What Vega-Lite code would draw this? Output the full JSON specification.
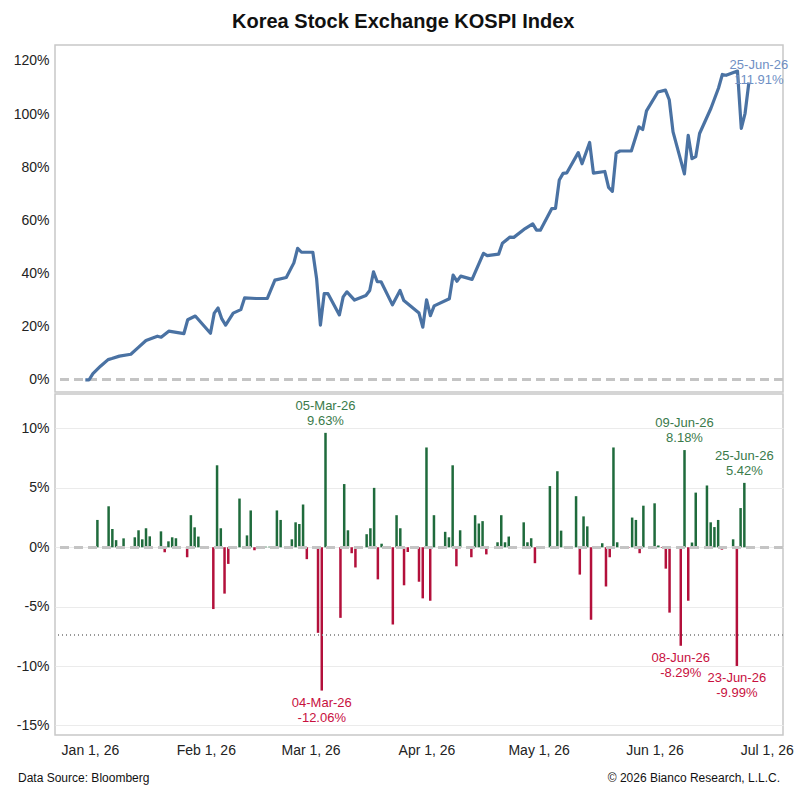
{
  "$schema": "https://vega.github.io/schema/vega-lite/v6.json",
  "background": "white",
  "padding": {"left": 12, "right": 12, "top": 12, "bottom": 10},
  "title": {"text": "Korea Stock Exchange KOSPI Index", "anchor": "middle", "fontSize": 20, "font": "Liberation Sans", "fontWeight": "bold", "color": "#111", "offset": 12},
  "config": {
    "font": "Liberation Sans",
    "view": {"stroke": "#c8c8c8", "strokeWidth": 1.5},
    "axis": {"labelFont": "Liberation Sans", "labelFontSize": 14, "labelColor": "#222", "gridColor": "#ebebeb", "domain": false, "ticks": false, "title": null}
  },
  "spacing": 0,
  "datasets": {
    "idx": [
      {"date": "2026-01-01", "v": 0}, {"date": "2026-01-02", "v": 0}, {"date": "2026-01-03", "v": 2.3}, {"date": "2026-01-05", "v": 5.1},
      {"date": "2026-01-07", "v": 7.6}, {"date": "2026-01-08", "v": 8}, {"date": "2026-01-10", "v": 8.9}, {"date": "2026-01-13", "v": 9.6},
      {"date": "2026-01-15", "v": 12.2}, {"date": "2026-01-17", "v": 14.8}, {"date": "2026-01-20", "v": 16.4}, {"date": "2026-01-21", "v": 16},
      {"date": "2026-01-23", "v": 18.3}, {"date": "2026-01-27", "v": 17.4}, {"date": "2026-01-28", "v": 22.6}, {"date": "2026-01-30", "v": 24},
      {"date": "2026-02-03", "v": 17.5}, {"date": "2026-02-04", "v": 25.1}, {"date": "2026-02-05", "v": 27}, {"date": "2026-02-06", "v": 22.9},
      {"date": "2026-02-07", "v": 20.6}, {"date": "2026-02-09", "v": 25.1}, {"date": "2026-02-11", "v": 26.4}, {"date": "2026-02-12", "v": 30.8},
      {"date": "2026-02-15", "v": 30.6}, {"date": "2026-02-18", "v": 30.6}, {"date": "2026-02-20", "v": 37.5}, {"date": "2026-02-23", "v": 38.5},
      {"date": "2026-02-25", "v": 44}, {"date": "2026-02-26", "v": 49.5}, {"date": "2026-02-27", "v": 48}, {"date": "2026-03-02", "v": 48},
      {"date": "2026-03-03", "v": 38}, {"date": "2026-03-04", "v": 20.6}, {"date": "2026-03-05", "v": 32.4}, {"date": "2026-03-06", "v": 32.4},
      {"date": "2026-03-09", "v": 24.4}, {"date": "2026-03-10", "v": 31.2}, {"date": "2026-03-11", "v": 33.1}, {"date": "2026-03-13", "v": 30},
      {"date": "2026-03-16", "v": 31.7}, {"date": "2026-03-17", "v": 33.6}, {"date": "2026-03-18", "v": 40.6}, {"date": "2026-03-19", "v": 36.9},
      {"date": "2026-03-20", "v": 36.9}, {"date": "2026-03-23", "v": 28.2}, {"date": "2026-03-25", "v": 33.6}, {"date": "2026-03-26", "v": 29.8},
      {"date": "2026-03-30", "v": 25.1}, {"date": "2026-03-31", "v": 19.8}, {"date": "2026-04-01", "v": 30.1}, {"date": "2026-04-02", "v": 24.1},
      {"date": "2026-04-03", "v": 27.8}, {"date": "2026-04-07", "v": 30.5}, {"date": "2026-04-08", "v": 39.4}, {"date": "2026-04-09", "v": 37.1},
      {"date": "2026-04-10", "v": 39}, {"date": "2026-04-13", "v": 37.8}, {"date": "2026-04-16", "v": 47.6}, {"date": "2026-04-17", "v": 46.7},
      {"date": "2026-04-20", "v": 47.3}, {"date": "2026-04-21", "v": 51.4}, {"date": "2026-04-23", "v": 53.7}, {"date": "2026-04-24", "v": 53.6},
      {"date": "2026-04-27", "v": 56.9}, {"date": "2026-04-29", "v": 58.7}, {"date": "2026-04-30", "v": 56.3}, {"date": "2026-05-01", "v": 56.3},
      {"date": "2026-05-04", "v": 64.4}, {"date": "2026-05-05", "v": 64.5}, {"date": "2026-05-06", "v": 75.2}, {"date": "2026-05-07", "v": 77.7},
      {"date": "2026-05-08", "v": 77.9}, {"date": "2026-05-11", "v": 85.5}, {"date": "2026-05-12", "v": 81.3}, {"date": "2026-05-14", "v": 89.3},
      {"date": "2026-05-15", "v": 77.8}, {"date": "2026-05-18", "v": 78.4}, {"date": "2026-05-19", "v": 72.4}, {"date": "2026-05-20", "v": 70.9},
      {"date": "2026-05-21", "v": 85.3}, {"date": "2026-05-22", "v": 86.1}, {"date": "2026-05-25", "v": 86.1}, {"date": "2026-05-27", "v": 95.2},
      {"date": "2026-05-28", "v": 94.2}, {"date": "2026-05-29", "v": 101.2}, {"date": "2026-06-01", "v": 108.3}, {"date": "2026-06-03", "v": 109},
      {"date": "2026-06-04", "v": 105.4}, {"date": "2026-06-05", "v": 93.3}, {"date": "2026-06-08", "v": 77.5}, {"date": "2026-06-09", "v": 92},
      {"date": "2026-06-10", "v": 83.2}, {"date": "2026-06-11", "v": 84}, {"date": "2026-06-12", "v": 92.7}, {"date": "2026-06-15", "v": 102.2},
      {"date": "2026-06-17", "v": 109.8}, {"date": "2026-06-18", "v": 114.9}, {"date": "2026-06-19", "v": 114.6}, {"date": "2026-06-22", "v": 116.2},
      {"date": "2026-06-23", "v": 94.6}, {"date": "2026-06-24", "v": 100.3}, {"date": "2026-06-25", "v": 111.91, "label": "25-Jun-26\n111.91%"}
    ],
    "chg": [
      {"date": "2026-01-02", "v": 0.05}, {"date": "2026-01-03", "v": 2.3}, {"date": "2026-01-06", "v": 3.45}, {"date": "2026-01-07", "v": 1.54},
      {"date": "2026-01-08", "v": 0.6}, {"date": "2026-01-09", "v": -0.05}, {"date": "2026-01-10", "v": 0.75}, {"date": "2026-01-13", "v": 0.84},
      {"date": "2026-01-14", "v": 1.43}, {"date": "2026-01-15", "v": 0.67}, {"date": "2026-01-16", "v": 1.6}, {"date": "2026-01-17", "v": 0.92},
      {"date": "2026-01-20", "v": 1.34}, {"date": "2026-01-21", "v": -0.42}, {"date": "2026-01-22", "v": 0.5}, {"date": "2026-01-23", "v": 0.84},
      {"date": "2026-01-24", "v": 0.76}, {"date": "2026-01-27", "v": -0.84}, {"date": "2026-01-28", "v": 2.7}, {"date": "2026-01-29", "v": 1.68},
      {"date": "2026-01-30", "v": 0.9}, {"date": "2026-01-31", "v": 0.05}, {"date": "2026-02-03", "v": -5.2}, {"date": "2026-02-04", "v": 6.9},
      {"date": "2026-02-05", "v": 1.6}, {"date": "2026-02-06", "v": -3.9}, {"date": "2026-02-07", "v": -1.4}, {"date": "2026-02-10", "v": 4.1},
      {"date": "2026-02-11", "v": 0.05}, {"date": "2026-02-12", "v": 1.0}, {"date": "2026-02-13", "v": 3.1}, {"date": "2026-02-14", "v": -0.25},
      {"date": "2026-02-17", "v": 0.05}, {"date": "2026-02-18", "v": 0.05}, {"date": "2026-02-19", "v": 0.05}, {"date": "2026-02-20", "v": 3.1},
      {"date": "2026-02-21", "v": 2.3}, {"date": "2026-02-24", "v": 0.67}, {"date": "2026-02-25", "v": 2.1}, {"date": "2026-02-26", "v": 1.96},
      {"date": "2026-02-27", "v": 3.6}, {"date": "2026-02-28", "v": -1.0}, {"date": "2026-03-02", "v": -0.05}, {"date": "2026-03-03", "v": -7.2},
      {"date": "2026-03-04", "v": -12.06, "label": "04-Mar-26\n-12.06%"}, {"date": "2026-03-05", "v": 9.63, "label": "05-Mar-26\n9.63%"},
      {"date": "2026-03-06", "v": 0.05}, {"date": "2026-03-09", "v": -5.94}, {"date": "2026-03-10", "v": 5.32}, {"date": "2026-03-11", "v": 1.43},
      {"date": "2026-03-12", "v": -0.5}, {"date": "2026-03-13", "v": -1.7}, {"date": "2026-03-16", "v": 1.1}, {"date": "2026-03-17", "v": 1.6},
      {"date": "2026-03-18", "v": 5.0}, {"date": "2026-03-19", "v": -2.7}, {"date": "2026-03-20", "v": 0.3}, {"date": "2026-03-23", "v": -6.5},
      {"date": "2026-03-24", "v": 2.7}, {"date": "2026-03-25", "v": 1.6}, {"date": "2026-03-26", "v": -3.2}, {"date": "2026-03-27", "v": -0.4},
      {"date": "2026-03-30", "v": -2.9}, {"date": "2026-03-31", "v": -4.3}, {"date": "2026-04-01", "v": 8.4}, {"date": "2026-04-02", "v": -4.5},
      {"date": "2026-04-03", "v": 2.7}, {"date": "2026-04-06", "v": 1.3}, {"date": "2026-04-07", "v": 0.84}, {"date": "2026-04-08", "v": 6.9},
      {"date": "2026-04-09", "v": -1.6}, {"date": "2026-04-10", "v": 1.43}, {"date": "2026-04-13", "v": -0.84}, {"date": "2026-04-14", "v": 2.7},
      {"date": "2026-04-15", "v": 2.0}, {"date": "2026-04-16", "v": 2.2}, {"date": "2026-04-17", "v": -0.6}, {"date": "2026-04-20", "v": 0.42},
      {"date": "2026-04-21", "v": 2.7}, {"date": "2026-04-22", "v": 0.42}, {"date": "2026-04-23", "v": 0.9}, {"date": "2026-04-24", "v": -0.05},
      {"date": "2026-04-27", "v": 2.1}, {"date": "2026-04-28", "v": 0.42}, {"date": "2026-04-29", "v": 0.76}, {"date": "2026-04-30", "v": -1.34},
      {"date": "2026-05-01", "v": -0.05}, {"date": "2026-05-04", "v": 5.15}, {"date": "2026-05-05", "v": -0.05}, {"date": "2026-05-06", "v": 6.4},
      {"date": "2026-05-07", "v": 1.4}, {"date": "2026-05-08", "v": 0.05}, {"date": "2026-05-11", "v": 4.3}, {"date": "2026-05-12", "v": -2.3},
      {"date": "2026-05-13", "v": 2.6}, {"date": "2026-05-14", "v": 1.76}, {"date": "2026-05-15", "v": -6.1}, {"date": "2026-05-18", "v": 0.34},
      {"date": "2026-05-19", "v": -3.3}, {"date": "2026-05-20", "v": -0.84}, {"date": "2026-05-21", "v": 8.4}, {"date": "2026-05-22", "v": 0.42},
      {"date": "2026-05-25", "v": -0.05}, {"date": "2026-05-26", "v": 2.5}, {"date": "2026-05-27", "v": 2.3}, {"date": "2026-05-28", "v": -0.5},
      {"date": "2026-05-29", "v": 3.5}, {"date": "2026-06-01", "v": 3.7}, {"date": "2026-06-02", "v": 0.15}, {"date": "2026-06-03", "v": -0.05},
      {"date": "2026-06-04", "v": -1.8}, {"date": "2026-06-05", "v": -5.5}, {"date": "2026-06-08", "v": -8.29, "label": "08-Jun-26\n-8.29%"},
      {"date": "2026-06-09", "v": 8.18, "label": "09-Jun-26\n8.18%"}, {"date": "2026-06-10", "v": -4.5}, {"date": "2026-06-11", "v": 0.4},
      {"date": "2026-06-12", "v": 4.6}, {"date": "2026-06-15", "v": 5.2}, {"date": "2026-06-16", "v": 2.1}, {"date": "2026-06-17", "v": 1.7},
      {"date": "2026-06-18", "v": 2.3}, {"date": "2026-06-19", "v": -0.2}, {"date": "2026-06-22", "v": 0.67},
      {"date": "2026-06-23", "v": -9.99, "label": "23-Jun-26\n-9.99%"}, {"date": "2026-06-24", "v": 3.3},
      {"date": "2026-06-25", "v": 5.42, "label": "25-Jun-26\n5.42%"}
    ],
    "foot": [{"src": "Data Source: Bloomberg", "cr": "© 2026 Bianco Research, L.L.C.", "x0": "2025-12-24", "x1": "2026-07-04", "y": -15.8}]
  },
  "vconcat": [
    {
      "width": 728,
      "height": 347,
      "data": {"name": "idx"},
      "encoding": {
        "x": {"field": "date", "type": "temporal", "scale": {"domain": ["2025-12-24", "2026-07-04"]}, "axis": {"labels": false, "grid": false}}
      },
      "layer": [
        {
          "mark": {"type": "rule", "color": "#c4c4c4", "strokeWidth": 2, "strokeDash": [9, 5]},
          "encoding": {"y": {"datum": 0}, "x": null}
        },
        {
          "mark": {"type": "line", "color": "#4a72a3", "strokeWidth": 3.2, "strokeJoin": "round"},
          "encoding": {
            "y": {"field": "v", "type": "quantitative", "scale": {"domain": [-4.6, 126], "nice": false},
              "axis": {"values": [0, 20, 40, 60, 80, 100, 120], "labelExpr": "datum.value + '%'", "labelPadding": 6}}
          }
        },
        {
          "transform": [{"filter": "datum.label"}],
          "mark": {"type": "text", "color": "#6f8fc4", "fontSize": 13, "align": "center", "baseline": "bottom", "lineBreak": "\n", "dx": 10, "dy": -10},
          "encoding": {"y": {"field": "v", "type": "quantitative"}, "text": {"field": "label"}}
        }
      ]
    },
    {
      "width": 728,
      "height": 341,
      "data": {"name": "chg"},
      "encoding": {
        "x": {"field": "date", "type": "temporal", "scale": {"domain": ["2025-12-24", "2026-07-04"]},
          "axis": {"format": "%b %-d, %y", "grid": false, "labelPadding": 8, "values": ["2026-01-01", "2026-02-01", "2026-03-01", "2026-04-01", "2026-05-01", "2026-06-01", "2026-07-01"]}}
      },
      "layer": [
        {
          "mark": {"type": "bar", "width": 2.5},
          "encoding": {
            "y": {"field": "v", "type": "quantitative", "scale": {"domain": [-15.8, 12.9], "nice": false},
              "axis": {"values": [-15, -10, -5, 0, 5, 10], "labelExpr": "datum.value + '%'", "labelPadding": 6}},
            "color": {"condition": {"test": "datum.v > 0", "value": "#1f6b3c"}, "value": "#b3103b"}
          }
        },
        {
          "mark": {"type": "rule", "color": "#c4c4c4", "strokeWidth": 2, "strokeDash": [9, 5]},
          "encoding": {"y": {"datum": 0}, "x": null}
        },
        {
          "mark": {"type": "rule", "color": "#999", "strokeWidth": 1, "strokeDash": [1, 3]},
          "encoding": {"y": {"datum": -7.4}, "x": null}
        },
        {
          "transform": [{"filter": "datum.label && datum.v > 0"}],
          "mark": {"type": "text", "color": "#3a7a4a", "fontSize": 13, "align": "center", "baseline": "bottom", "lineBreak": "\n", "dy": -20},
          "encoding": {"y": {"field": "v", "type": "quantitative"}, "text": {"field": "label"}}
        },
        {
          "transform": [{"filter": "datum.label && datum.v < 0"}],
          "mark": {"type": "text", "color": "#c8103e", "fontSize": 13, "align": "center", "baseline": "top", "lineBreak": "\n", "dy": 6},
          "encoding": {"y": {"field": "v", "type": "quantitative"}, "text": {"field": "label"}}
        },
        {
          "data": {"name": "foot"},
          "mark": {"type": "text", "fontSize": 12, "color": "#111", "align": "left", "baseline": "top", "dy": 38, "dx": -42},
          "encoding": {"x": {"field": "x0", "type": "temporal"}, "y": {"field": "y", "type": "quantitative"}, "text": {"field": "src"}}
        },
        {
          "data": {"name": "foot"},
          "mark": {"type": "text", "fontSize": 12, "color": "#111", "align": "right", "baseline": "top", "dy": 38, "dx": 2},
          "encoding": {"x": {"field": "x1", "type": "temporal"}, "y": {"field": "y", "type": "quantitative"}, "text": {"field": "cr"}}
        }
      ]
    }
  ]
}
